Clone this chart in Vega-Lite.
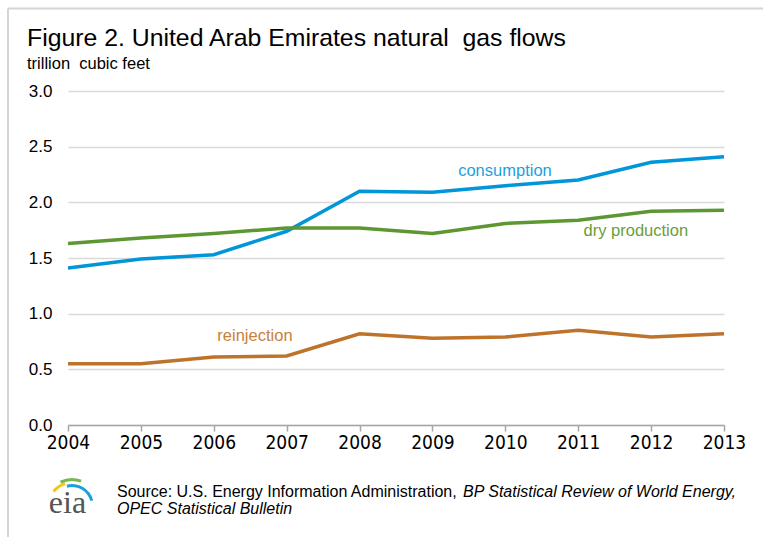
{
  "$schema": "https://vega.github.io/schema/vega-lite/v6.json",
  "autosize": "none",
  "width": 656,
  "height": 334,
  "padding": {"left": 68, "top": 91, "right": 39, "bottom": 112},
  "background": "#ffffff",
  "title": {
    "text": "Figure 2. United Arab Emirates natural\u00a0 gas flows",
    "subtitle": "trillion\u00a0 cubic feet",
    "anchor": "start",
    "frame": "group",
    "dx": -41,
    "offset": -65,
    "font": "Liberation Sans",
    "fontSize": 24.8,
    "fontWeight": "normal",
    "color": "#000000",
    "subtitleFont": "Liberation Sans",
    "subtitleFontSize": 16.5,
    "subtitleColor": "#000000",
    "subtitlePadding": 5
  },
  "layer": [
    {
      "data": {"values": [{"k": 1}]},
      "mark": {"type": "rule", "color": "#d4d4d4", "strokeWidth": 2},
      "encoding": {
        "x": {"datum": 2003.177, "type": "quantitative"},
        "x2": {"datum": 2013.54},
        "y": {"datum": 3.741, "type": "quantitative"}
      }
    },
    {
      "data": {"values": [{"k": 1}]},
      "mark": {"type": "rule", "color": "#d4d4d4", "strokeWidth": 2},
      "encoding": {
        "x": {"datum": 2003.177, "type": "quantitative"},
        "y": {"datum": 3.741, "type": "quantitative"},
        "y2": {"datum": -1.01}
      }
    },
    {
      "data": {
        "values": [
          {"year": 2004, "series": "consumption", "value": 1.41},
          {"year": 2005, "series": "consumption", "value": 1.49},
          {"year": 2006, "series": "consumption", "value": 1.53},
          {"year": 2007, "series": "consumption", "value": 1.74},
          {"year": 2008, "series": "consumption", "value": 2.10},
          {"year": 2009, "series": "consumption", "value": 2.09},
          {"year": 2010, "series": "consumption", "value": 2.15},
          {"year": 2011, "series": "consumption", "value": 2.20},
          {"year": 2012, "series": "consumption", "value": 2.36},
          {"year": 2013, "series": "consumption", "value": 2.41},
          {"year": 2004, "series": "dry production", "value": 1.63},
          {"year": 2005, "series": "dry production", "value": 1.68},
          {"year": 2006, "series": "dry production", "value": 1.72},
          {"year": 2007, "series": "dry production", "value": 1.77},
          {"year": 2008, "series": "dry production", "value": 1.77},
          {"year": 2009, "series": "dry production", "value": 1.72},
          {"year": 2010, "series": "dry production", "value": 1.81},
          {"year": 2011, "series": "dry production", "value": 1.84},
          {"year": 2012, "series": "dry production", "value": 1.92},
          {"year": 2013, "series": "dry production", "value": 1.93},
          {"year": 2004, "series": "reinjection", "value": 0.55},
          {"year": 2005, "series": "reinjection", "value": 0.55},
          {"year": 2006, "series": "reinjection", "value": 0.61},
          {"year": 2007, "series": "reinjection", "value": 0.62},
          {"year": 2008, "series": "reinjection", "value": 0.82},
          {"year": 2009, "series": "reinjection", "value": 0.78},
          {"year": 2010, "series": "reinjection", "value": 0.79},
          {"year": 2011, "series": "reinjection", "value": 0.85},
          {"year": 2012, "series": "reinjection", "value": 0.79},
          {"year": 2013, "series": "reinjection", "value": 0.82}
        ]
      },
      "mark": {"type": "line", "strokeWidth": 3.5, "strokeJoin": "miter"},
      "encoding": {
        "x": {
          "field": "year",
          "type": "quantitative",
          "scale": {"domain": [2004, 2013], "nice": false, "zero": false},
          "axis": {
            "values": [2004, 2005, 2006, 2007, 2008, 2009, 2010, 2011, 2012, 2013],
            "format": "d",
            "title": null
          }
        },
        "y": {
          "field": "value",
          "type": "quantitative",
          "scale": {"domain": [0, 3], "nice": false},
          "axis": {
            "values": [0, 0.5, 1, 1.5, 2, 2.5, 3],
            "format": ".1f",
            "title": null
          }
        },
        "color": {
          "field": "series",
          "type": "nominal",
          "scale": {"domain": ["consumption", "dry production", "reinjection"], "range": ["#0096d7", "#5d9732", "#bd732a"]},
          "legend": null
        }
      }
    },
    {
      "data": {"values": [{"k": 1}]},
      "mark": {"type": "text", "text": "consumption", "color": "#1e9fde", "font": "Liberation Sans", "fontSize": 16.5, "align": "center", "baseline": "middle"},
      "encoding": {"x": {"datum": 2009.995, "type": "quantitative"}, "y": {"datum": 2.28, "type": "quantitative"}}
    },
    {
      "data": {"values": [{"k": 1}]},
      "mark": {"type": "text", "text": "dry production", "color": "#6a9e3a", "font": "Liberation Sans", "fontSize": 16.5, "align": "center", "baseline": "middle"},
      "encoding": {"x": {"datum": 2011.79, "type": "quantitative"}, "y": {"datum": 1.74, "type": "quantitative"}}
    },
    {
      "data": {"values": [{"k": 1}]},
      "mark": {"type": "text", "text": "reinjection", "color": "#c8813a", "font": "Liberation Sans", "fontSize": 16.5, "align": "center", "baseline": "middle"},
      "encoding": {"x": {"datum": 2006.565, "type": "quantitative"}, "y": {"datum": 0.80, "type": "quantitative"}}
    },
    {
      "data": {"values": [{"k": 1}]},
      "mark": {"type": "text", "text": "Source: U.S. Energy Information Administration,", "color": "#000000", "font": "Liberation Sans", "fontSize": 16, "align": "left", "baseline": "alphabetic"},
      "encoding": {"x": {"datum": 2004.672, "type": "quantitative"}, "y": {"datum": -0.647, "type": "quantitative"}}
    },
    {
      "data": {"values": [{"k": 1}]},
      "mark": {"type": "text", "text": "BP Statistical Review of World Energy,", "color": "#000000", "font": "Liberation Sans", "fontSize": 16, "fontStyle": "italic", "align": "left", "baseline": "alphabetic"},
      "encoding": {"x": {"datum": 2009.42, "type": "quantitative"}, "y": {"datum": -0.647, "type": "quantitative"}}
    },
    {
      "data": {"values": [{"k": 1}]},
      "mark": {"type": "text", "text": "OPEC Statistical Bulletin", "color": "#000000", "font": "Liberation Sans", "fontSize": 16, "fontStyle": "italic", "align": "left", "baseline": "alphabetic"},
      "encoding": {"x": {"datum": 2004.672, "type": "quantitative"}, "y": {"datum": -0.80, "type": "quantitative"}}
    },
    {
      "data": {"values": [{"k": 1}]},
      "mark": {"type": "text", "text": "eia", "color": "#555555", "font": "Liberation Serif", "fontSize": 32, "align": "center", "baseline": "alphabetic"},
      "encoding": {"x": {"datum": 2003.993, "type": "quantitative"}, "y": {"datum": -0.79, "type": "quantitative"}}
    },
    {
      "data": {"values": [{"k": 1}]},
      "mark": {"type": "arc", "fill": "#f2c418", "radius": 25, "radius2": 22, "theta": -0.9, "theta2": -0.3},
      "encoding": {"x": {"datum": 2004.055, "type": "quantitative"}, "y": {"datum": -0.728, "type": "quantitative"}}
    },
    {
      "data": {"values": [{"k": 1}]},
      "mark": {"type": "arc", "fill": "#7ab648", "radius": 28, "radius2": 25, "theta": -0.45, "theta2": 0.35},
      "encoding": {"x": {"datum": 2004.055, "type": "quantitative"}, "y": {"datum": -0.728, "type": "quantitative"}}
    },
    {
      "data": {"values": [{"k": 1}]},
      "mark": {"type": "arc", "fill": "#1d9fdb", "radius": 22, "radius2": 19, "theta": -0.25, "theta2": 1.3},
      "encoding": {"x": {"datum": 2004.055, "type": "quantitative"}, "y": {"datum": -0.728, "type": "quantitative"}}
    }
  ],
  "config": {
    "view": {"stroke": null},
    "axisX": {
      "grid": false,
      "domainColor": "#a6a6a6",
      "domainWidth": 1.5,
      "tickColor": "#a6a6a6",
      "tickWidth": 1.5,
      "tickSize": 6,
      "labelFont": "Liberation Sans Narrow, DejaVu Sans Condensed, sans-serif",
      "labelFontSize": 19,
      "labelColor": "#000000",
      "labelPadding": 2,
      "labelFlush": false,
      "labelOverlap": false
    },
    "axisY": {
      "domain": false,
      "ticks": false,
      "grid": true,
      "gridColor": "#d9d9d9",
      "gridWidth": 1.5,
      "labelFont": "Liberation Sans",
      "labelFontSize": 17,
      "labelColor": "#000000",
      "labelPadding": 16
    }
  }
}
